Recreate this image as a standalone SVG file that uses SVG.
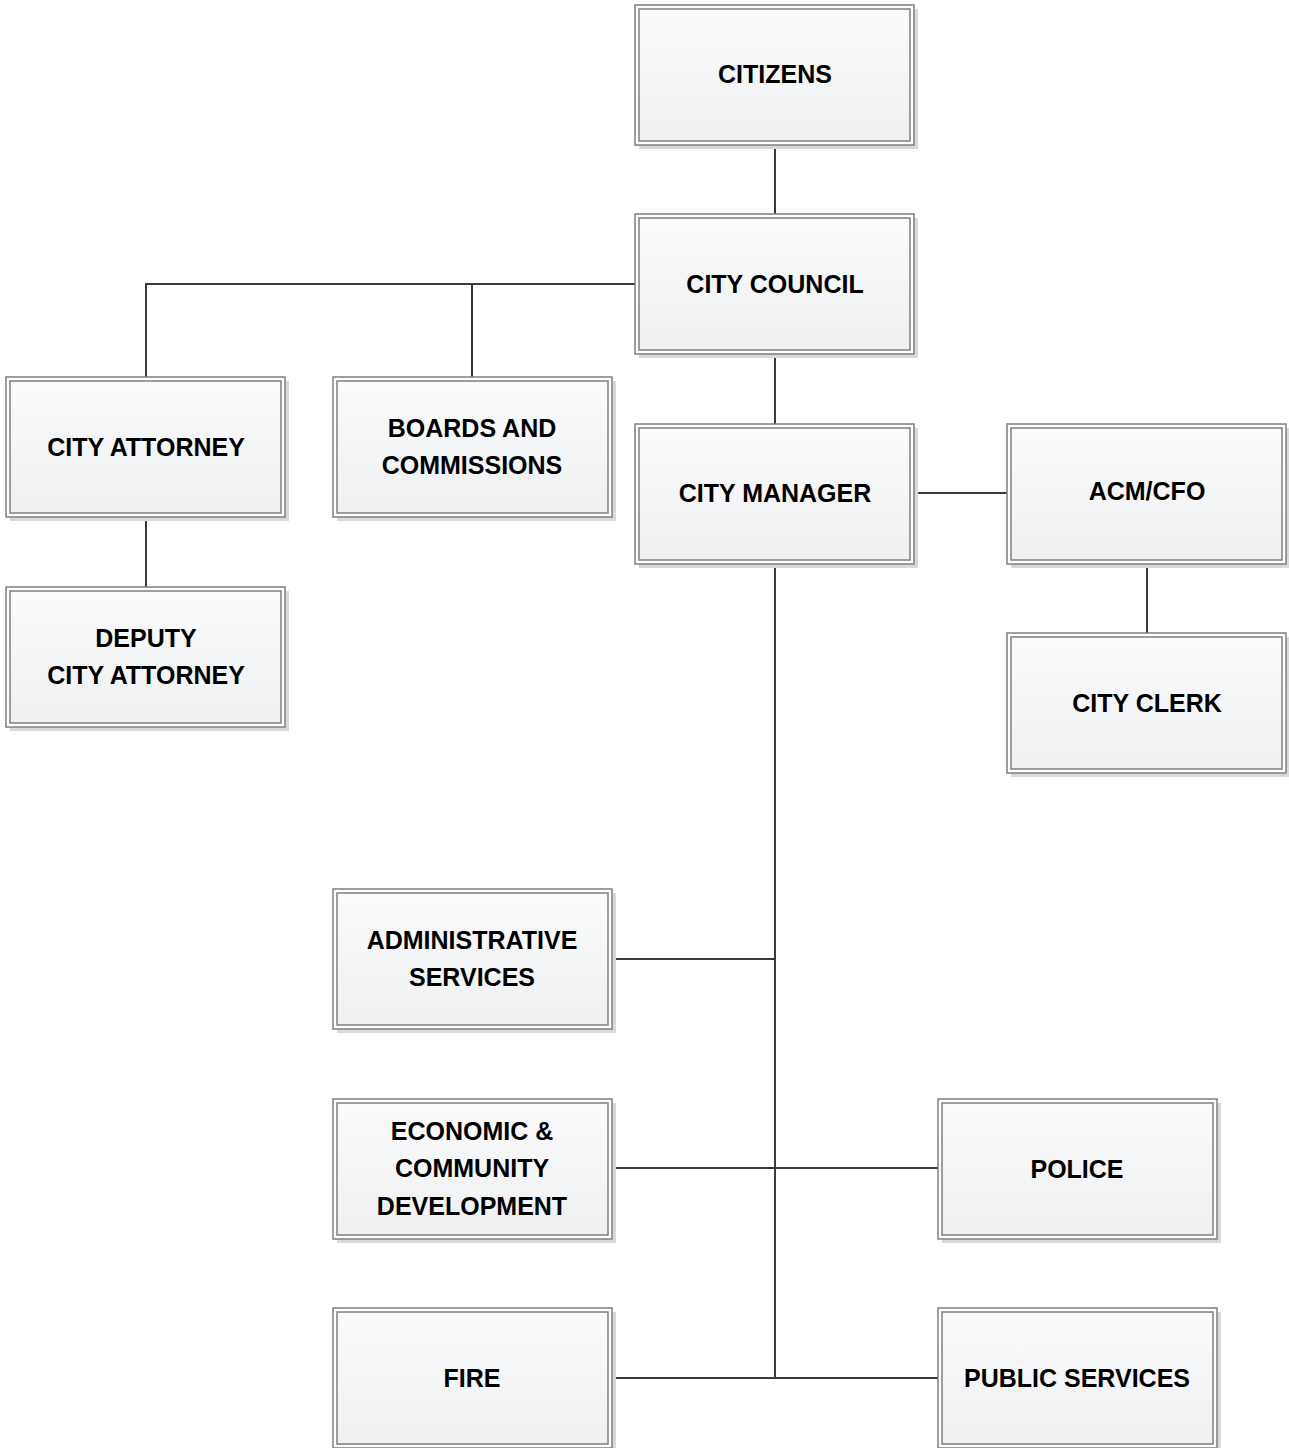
<svg xmlns="http://www.w3.org/2000/svg" width="1289" height="1448" viewBox="0 0 1289 1448">
<defs>
<linearGradient id="g" x1="0" y1="0" x2="0" y2="1">
<stop offset="0" stop-color="#fbfbfc"/>
<stop offset="1" stop-color="#eef0f1"/>
</linearGradient>
<style>
.sh{fill:#d9d9d9}
.o{fill:#ffffff;stroke:#7f7f7f;stroke-width:1.5}
.i{fill:url(#g);stroke:#7f7f7f;stroke-width:1.5}
.t{font-family:"Liberation Sans",Arial,sans-serif;font-weight:bold;font-size:25px;fill:#000;text-anchor:middle}
.c{stroke:#3a3a3a;stroke-width:2;fill:none}
</style>
</defs>
<rect width="1289" height="1448" fill="#fff"/>
<g id="connectors">
<line class="c" x1="775" y1="145" x2="775" y2="214"/>
<polyline class="c" points="635,284 146,284 146,377"/>
<line class="c" x1="472" y1="284" x2="472" y2="377"/>
<line class="c" x1="775" y1="354" x2="775" y2="424"/>
<line class="c" x1="146" y1="517" x2="146" y2="587"/>
<line class="c" x1="914" y1="493" x2="1007" y2="493"/>
<line class="c" x1="1147" y1="564" x2="1147" y2="633"/>
<line class="c" x1="775" y1="564" x2="775" y2="1378"/>
<line class="c" x1="611" y1="959" x2="775" y2="959"/>
<line class="c" x1="611" y1="1168" x2="938" y2="1168"/>
<line class="c" x1="611" y1="1378" x2="938" y2="1378"/>
</g>
<g id="citizens">
<rect class="sh" x="639" y="9" width="279" height="140"/>
<rect class="o" x="635" y="5" width="279" height="140"/>
<rect class="i" x="639" y="9" width="271" height="132"/>
<text class="t" x="775" y="83">CITIZENS</text>
</g>
<g id="city-council">
<rect class="sh" x="639" y="218" width="279" height="140"/>
<rect class="o" x="635" y="214" width="279" height="140"/>
<rect class="i" x="639" y="218" width="271" height="132"/>
<text class="t" x="775" y="293">CITY COUNCIL</text>
</g>
<g id="city-attorney">
<rect class="sh" x="10" y="381" width="279" height="140"/>
<rect class="o" x="6" y="377" width="279" height="140"/>
<rect class="i" x="10" y="381" width="271" height="132"/>
<text class="t" x="146" y="456">CITY ATTORNEY</text>
</g>
<g id="boards-and-commissions">
<rect class="sh" x="337" y="381" width="279" height="140"/>
<rect class="o" x="333" y="377" width="279" height="140"/>
<rect class="i" x="337" y="381" width="271" height="132"/>
<text class="t" x="472" y="437">BOARDS AND</text>
<text class="t" x="472" y="474">COMMISSIONS</text>
</g>
<g id="city-manager">
<rect class="sh" x="639" y="428" width="279" height="140"/>
<rect class="o" x="635" y="424" width="279" height="140"/>
<rect class="i" x="639" y="428" width="271" height="132"/>
<text class="t" x="775" y="502">CITY MANAGER</text>
</g>
<g id="acm-cfo">
<rect class="sh" x="1011" y="428" width="278" height="140"/>
<rect class="o" x="1007" y="424" width="279" height="140"/>
<rect class="i" x="1011" y="428" width="271" height="132"/>
<text class="t" x="1147" y="500">ACM/CFO</text>
</g>
<g id="deputy-city-attorney">
<rect class="sh" x="10" y="591" width="279" height="140"/>
<rect class="o" x="6" y="587" width="279" height="140"/>
<rect class="i" x="10" y="591" width="271" height="132"/>
<text class="t" x="146" y="647">DEPUTY</text>
<text class="t" x="146" y="684">CITY ATTORNEY</text>
</g>
<g id="city-clerk">
<rect class="sh" x="1011" y="637" width="278" height="140"/>
<rect class="o" x="1007" y="633" width="279" height="140"/>
<rect class="i" x="1011" y="637" width="271" height="132"/>
<text class="t" x="1147" y="712">CITY CLERK</text>
</g>
<g id="administrative-services">
<rect class="sh" x="337" y="893" width="279" height="140"/>
<rect class="o" x="333" y="889" width="279" height="140"/>
<rect class="i" x="337" y="893" width="271" height="132"/>
<text class="t" x="472" y="949">ADMINISTRATIVE</text>
<text class="t" x="472" y="986">SERVICES</text>
</g>
<g id="economic-community-development">
<rect class="sh" x="337" y="1103" width="279" height="140"/>
<rect class="o" x="333" y="1099" width="279" height="140"/>
<rect class="i" x="337" y="1103" width="271" height="132"/>
<text class="t" x="472" y="1140">ECONOMIC &amp;</text>
<text class="t" x="472" y="1177">COMMUNITY</text>
<text class="t" x="472" y="1215">DEVELOPMENT</text>
</g>
<g id="police">
<rect class="sh" x="942" y="1103" width="279" height="140"/>
<rect class="o" x="938" y="1099" width="279" height="140"/>
<rect class="i" x="942" y="1103" width="271" height="132"/>
<text class="t" x="1077" y="1178">POLICE</text>
</g>
<g id="fire">
<rect class="sh" x="337" y="1312" width="279" height="140"/>
<rect class="o" x="333" y="1308" width="279" height="140"/>
<rect class="i" x="337" y="1312" width="271" height="132"/>
<text class="t" x="472" y="1387">FIRE</text>
</g>
<g id="public-services">
<rect class="sh" x="942" y="1312" width="279" height="140"/>
<rect class="o" x="938" y="1308" width="279" height="140"/>
<rect class="i" x="942" y="1312" width="271" height="132"/>
<text class="t" x="1077" y="1387">PUBLIC SERVICES</text>
</g>
</svg>
